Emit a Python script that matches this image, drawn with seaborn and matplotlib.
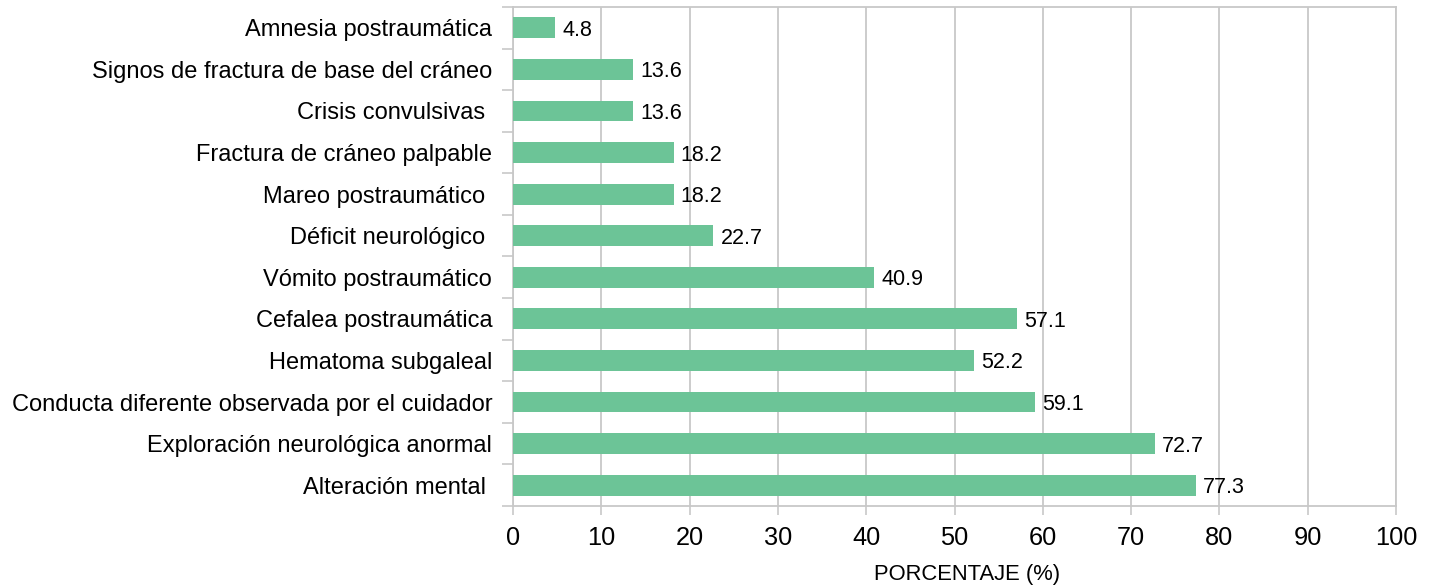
import matplotlib
matplotlib.use("Agg")
import matplotlib.pyplot as plt
import seaborn as sns
import pandas as pd
import numpy as np
from matplotlib.ticker import FixedLocator

categories = [
    "Amnesia postraumática",
    "Signos de fractura de base del cráneo",
    "Crisis convulsivas ",
    "Fractura de cráneo palpable",
    "Mareo postraumático ",
    "Déficit neurológico ",
    "Vómito postraumático",
    "Cefalea postraumática",
    "Hematoma subgaleal",
    "Conducta diferente observada por el cuidador",
    "Exploración neurológica anormal",
    "Alteración mental ",
]
values = [4.8, 13.6, 13.6, 18.2, 18.2, 22.7, 40.9, 57.1, 52.2, 59.1, 72.7, 77.3]
xticks = [0, 10, 20, 30, 40, 50, 60, 70, 80, 90, 100]

sns.set_theme(style="white")
plt.rcParams["font.family"] = ["Liberation Sans", "DejaVu Sans"]

df = pd.DataFrame({"cat": categories, "val": values})

fig = plt.figure(figsize=(14.32, 5.86), dpi=100)
ax = fig.add_axes([513 / 1432, 1 - 506 / 586, (1396 - 513) / 1432, (506 - 7) / 586])

sns.barplot(data=df, y="cat", x="val", orient="h", color="#6CC497",
            saturation=1, width=0.5, linewidth=0, ax=ax, zorder=3)

ax.set_xlim(0, 100)
ax.set_ylim(len(categories) - 0.5, -0.5)
ax.set_xticks(xticks)
ax.set_xticklabels([str(t) for t in xticks], fontsize=18.3, color="#000000")
ax.set_yticks(range(len(categories)))
ax.set_yticklabels(categories, fontsize=17, color="#000000")
ax.yaxis.set_minor_locator(FixedLocator(np.arange(-0.5, len(categories), 1.0)))
ax.tick_params(axis="y", which="major", length=0, pad=15)
ax.tick_params(axis="y", which="minor", length=8, width=1.2, color="#C8C8C8", left=True)
ax.tick_params(axis="x", which="major", length=6.5, width=1.2, color="#C8C8C8", bottom=True, pad=8)

ax.xaxis.grid(True, color="#C8C8C8", linewidth=1.3, zorder=0)
ax.yaxis.grid(False)
ax.set_axisbelow(True)
for s in ax.spines.values():
    s.set_color("#C8C8C8")
    s.set_linewidth(1.3)
    s.set_visible(True)

for i, v in enumerate(values):
    ax.text(v + 0.8, i, f"{v:.1f}", va="center_baseline", ha="left", fontsize=15.5, color="#000000")

ax.set_ylabel("")
ax.set_xlabel("PORCENTAJE (%)", fontsize=15.8, color="#000000")
ax.xaxis.set_label_coords((967 - 513) / (1396 - 513), -0.117)

fig.savefig("out.png", dpi=100)
